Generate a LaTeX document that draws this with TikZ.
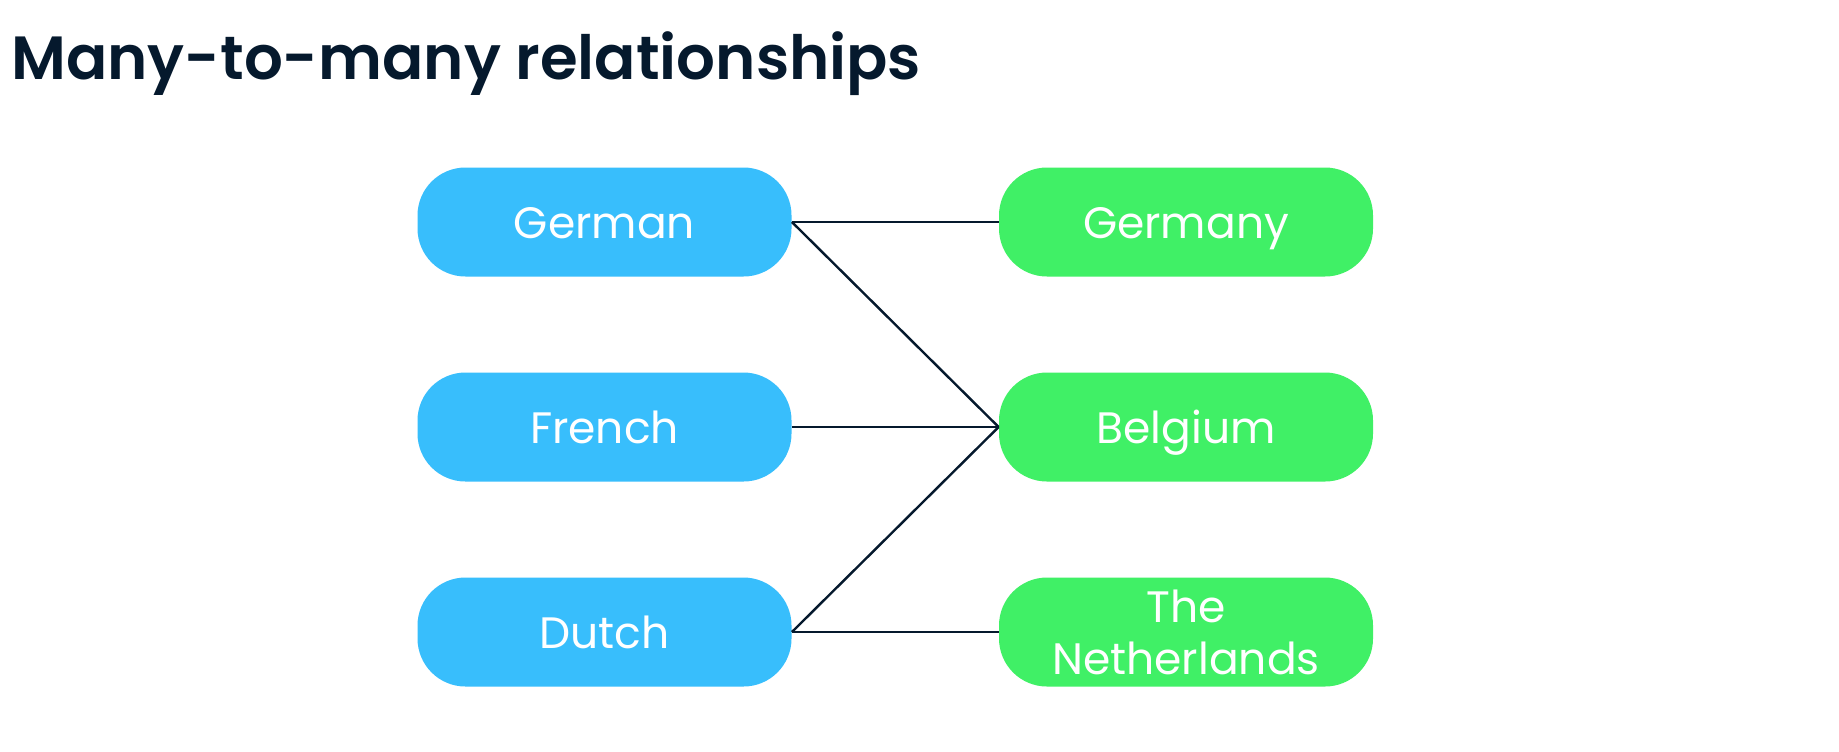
\documentclass[tikz,border=0pt]{standalone}
\usepackage{fontspec}
\setmainfont{Poppins}
\newfontfamily\titlefont{Poppins SemiBold}
\usepackage{tikz}
\definecolor{dcblue}{HTML}{38BEFC}
\definecolor{dcgreen}{HTML}{40F066}
\definecolor{dcnavy}{HTML}{05192D}
\tikzset{
  pill/.style    = {shape=rectangle, rounded corners=24pt,
                    align=center, inner sep=0pt,
                    minimum width=187pt, minimum height=54.5pt,
                    text height=20pt, text depth=3.6pt,
                    text=white, font=\fontsize{22}{26}\selectfont},
  lang/.style    = {pill, fill=dcblue},
  country/.style = {pill, fill=dcgreen},
  link/.style    = {draw=dcnavy, line width=1.2pt}
}

\begin{document}
\begin{tikzpicture}
	  [
	    x = 0.5pt,
	    y = -0.5pt
	  ]
	  \useasboundingbox (0,0) rectangle (1839,751);
	  \fill[white] (0,0) rectangle (1839,751);
	  \node [anchor=base west, inner sep=0pt, text=dcnavy,
	         font=\fontsize{30.5}{36}\titlefont] (title) at (11,79) {Many-to-many relationships};
	  % languages
	  \node [lang] (german) at (604.5,222) {German};
	  \node [lang] (french) at (604.5,427) {French};
	  \node [lang] (dutch)  at (604.5,632) {Dutch};
	  % countries
	  \node [country] (germany)     at (1186,222) {Germany};
	  \node [country] (belgium)     at (1186,427) {Belgium};
	  \node [country, text height=, text depth=] (netherlands) at (1186,632) {The\\Netherlands};
	  % links
	  \draw [link] (german.east) -- (germany.west);
	  \draw [link] (german.east) -- (belgium.west);
	  \draw [link] (french.east) -- (belgium.west);
	  \draw [link] (dutch.east)  -- (belgium.west);
	  \draw [link] (dutch.east)  -- (netherlands.west);
	\end{tikzpicture}
\end{document}
